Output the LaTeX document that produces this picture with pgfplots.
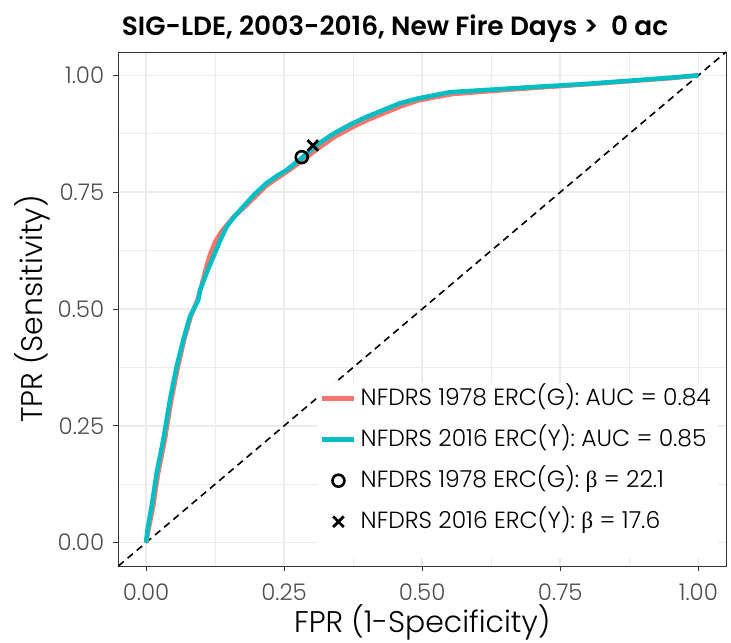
\documentclass[border=0pt]{standalone}
\usepackage{fontspec}
\setmainfont{Poppins}[UprightFont=* Light, BoldFont=* SemiBold]
\newfontfamily\betafont{Liberation Serif}
\usepackage{pgfplots}
\pgfplotsset{compat=1.18}
\definecolor{rocred}{HTML}{F8766D}
\definecolor{rocteal}{HTML}{00BFC4}
\definecolor{gridgrey}{HTML}{EBEBEB}
\definecolor{grey20}{HTML}{333333}
\definecolor{grey30}{HTML}{4D4D4D}
\begin{document}
\begin{tikzpicture}
\begin{axis}[
  name=ax,
  scale only axis,
  width=607.6bp, height=514bp,
  xmin=-0.05, xmax=1.05, ymin=-0.05, ymax=1.05,
  xtick={0,0.25,0.5,0.75,1}, ytick={0,0.25,0.5,0.75,1},
  xticklabels={0.00,0.25,0.50,0.75,1.00},
  yticklabels={0.00,0.25,0.50,0.75,1.00},
  minor xtick={0.125,0.375,0.625,0.875},
  minor ytick={0.125,0.375,0.625,0.875},
  grid=both,
  major grid style={gridgrey, line width=1.6bp},
  minor grid style={gridgrey, line width=0.8bp},
  axis line style={grey20, line width=0.9bp},
  major tick style={grey20, line width=0.9bp},
  major tick length=5bp,
  minor tick length=0bp,
  tick align=outside,
  tick pos=left,
  /pgf/number format/assume math mode=true,
  ticklabel style={font=\fontsize{23}{27}\selectfont, text=grey30},
  xticklabel style={inner sep=3bp, yshift=-10bp},
  yticklabel style={inner sep=3bp, xshift=-6bp},
  xlabel={FPR (1-Specificity)},
  ylabel={TPR (Sensitivity)},
  label style={font=\fontsize{30}{35}\selectfont},
  xlabel style={at={(axis description cs:0.5,-0.1284)}, anchor=base},
  ylabel style={at={(axis description cs:-0.125,0.5)}, anchor=base, rotate=0},
  title={\textbf{SIG-LDE, 2003-2016, New Fire Days >\ \ 0 ac}},
  title style={at={(axis description cs:0,1.0214)}, anchor=base west, font=\fontsize{26.5}{31}\selectfont},
  legend cell align=left,
  legend style={at={(axis description cs:0.3285,0.356)}, anchor=north west,
    draw=none, fill=none, inner xsep=2bp, inner ysep=4bp,
    font=\fontsize{23.5}{28}\selectfont, row sep=18bp,
    nodes={inner ysep=0bp, inner xsep=4bp, text height=18bp, text depth=5bp}},
  legend image code/.code={\draw[mark repeat=2, mark phase=2, #1] plot coordinates {(0bp,0bp) (16bp,0bp) (32bp,0bp)};},
]
\addplot[black, line width=1.6bp, dash pattern=on 7bp off 5bp, forget plot] coordinates {(-0.05,-0.05) (1.05,1.05)};
\addplot[fill=white, draw=none, forget plot] coordinates {(0.311,0.342) (1.035,0.342) (1.035,-0.032) (0.311,-0.032)} -- cycle;
\addplot[rocred, line width=4.5bp, line join=round, no marks] coordinates {
(0,0)(0.004,0.025)(0.010,0.060)(0.013,0.078)(0.022,0.149)(0.034,0.220)(0.046,0.306)(0.058,0.377)(0.069,0.434)(0.081,0.484)(0.093,0.519)(0.100,0.548)(0.108,0.585)(0.116,0.617)(0.126,0.646)(0.138,0.668)(0.158,0.696)(0.180,0.720)(0.218,0.764)(0.254,0.793)(0.286,0.820)(0.312,0.844)(0.341,0.868)(0.372,0.888)(0.402,0.905)(0.433,0.920)(0.462,0.934)(0.492,0.946)(0.522,0.953)(0.555,0.960)(0.620,0.966)(0.700,0.973)(0.800,0.981)(0.880,0.988)(0.950,0.994)(1,1)};
\addlegendentry{NFDRS 1978 ERC(G): AUC = 0.84}
\addplot[rocteal, line width=4.5bp, line join=round, no marks] coordinates {
(0,0)(0.003,0.030)(0.0103,0.078)(0.0193,0.149)(0.0313,0.220)(0.0434,0.306)(0.0555,0.377)(0.0675,0.434)(0.0796,0.484)(0.0946,0.519)(0.098,0.541)(0.110,0.578)(0.122,0.612)(0.134,0.646)(0.146,0.676)(0.160,0.698)(0.176,0.719)(0.196,0.745)(0.218,0.769)(0.236,0.784)(0.254,0.797)(0.270,0.812)(0.284,0.825)(0.310,0.852)(0.339,0.875)(0.370,0.895)(0.399,0.911)(0.430,0.926)(0.459,0.940)(0.490,0.950)(0.520,0.957)(0.550,0.964)(0.620,0.969)(0.700,0.975)(0.800,0.982)(0.881,0.989)(0.950,0.995)(1,1)};
\addlegendentry{NFDRS 2016 ERC(Y): AUC = 0.85}
\addplot[black, only marks, mark=o, mark size=6bp, line width=2.6bp] coordinates {(0.282,0.825)};
\addlegendentry{NFDRS 1978 ERC(G): {\betafont β} = 22.1}
\addplot[black, only marks, mark=x, mark size=7.5bp, line width=2.8bp] coordinates {(0.302,0.850)};
\addlegendentry{NFDRS 2016 ERC(Y): {\betafont β} = 17.6}
\end{axis}
\pgfresetboundingbox
\path[use as bounding box] ([xshift=-118.4bp,yshift=-77bp]ax.south west) rectangle ([xshift=5bp,yshift=52bp]ax.north east);
\end{tikzpicture}
\end{document}
